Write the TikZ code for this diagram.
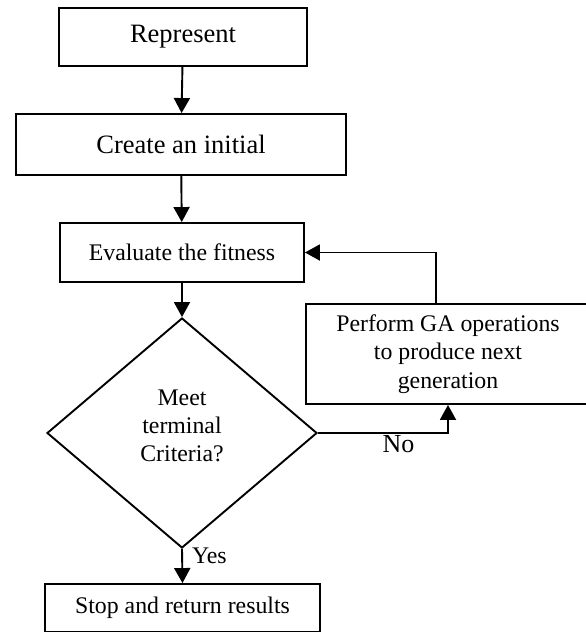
\documentclass[tikz,border=0pt]{standalone}
\usepackage{fontspec}
\setmainfont{Liberation Serif}
\usetikzlibrary{shapes.geometric, arrows.meta, positioning}

\begin{document}
\begin{tikzpicture}[x=1pt, y=-1pt,
    stagebox/.style={draw, line width=1.9pt, rectangle, inner sep=0pt, align=center, font=\fontsize{23.8}{28.3}\selectfont},
    bigbox/.style={stagebox, font=\fontsize{26.5}{30}\selectfont},
    checkdiamond/.style={draw, line width=1.9pt, diamond, inner sep=0pt, align=center, minimum width=270pt, minimum height=230pt, font=\fontsize{23.8}{28.3}\selectfont},
    flowarrow/.style={line width=1.9pt, -{Triangle[length=15pt, width=16pt]}}]
    % page and margins
    \fill[white] (0,0) rectangle (586,632);
    \useasboundingbox (0,0) rectangle (586,632);
    % main column
    \node[bigbox, minimum width=248pt, minimum height=58pt] (represent) at (183,37) {Represent};
    \node[bigbox, minimum width=330pt, minimum height=61pt] (initial) at (181,144.5) {Create an initial};
    \node[stagebox, minimum width=244pt, minimum height=59pt] (fitness) at (182,252.5) {Evaluate the fitness};
    \node[checkdiamond] (criteria) at (182,433) {Meet\\terminal\\Criteria?\\[-14pt]~};
    \node[stagebox, minimum width=275pt, minimum height=48pt] (stop) at (182.5,608) {Stop and return results};
    % GA side box, cut by the page edge
    \node[stagebox, minimum width=284pt, minimum height=100pt] (gaops) at (448,354) {Perform GA operations\\to produce next\\generation};
    % connectors
    \draw[flowarrow] (represent) -- (initial);
    \draw[flowarrow] (initial) -- (fitness);
    \draw[flowarrow] (fitness) -- (criteria);
    \draw[flowarrow] (criteria.south) -- (stop.north)
        node[pos=0.2, right=8pt, inner sep=1pt, font=\fontsize{23.8}{28}\selectfont] {Yes};
    \draw[flowarrow] (criteria.east) -| (gaops.south)
        node[pos=0.31, below, inner sep=2pt, font=\fontsize{26}{30}\selectfont] {No};
    \draw[flowarrow] ([xshift=-12pt]gaops.north) |- (fitness.east);
\end{tikzpicture}
\end{document}
